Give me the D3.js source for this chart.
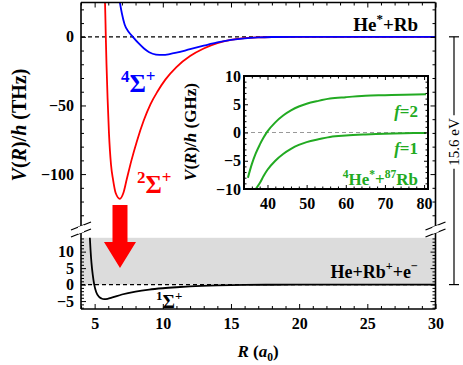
<!DOCTYPE html>
<html><head><meta charset="utf-8">
<script src="https://cdn.jsdelivr.net/npm/d3@7"></script>
<style>
body{margin:0;background:#fff}
svg{display:block}
text{font-family:"Liberation Serif","Times New Roman",serif;font-weight:bold}
</style>
</head><body>
<svg id="c" width="463" height="365"></svg>
<script>
// ---------- data ----------
const redR  = [5.70,5.76,5.82,5.87,5.95,6.05,6.20,6.35,6.55,6.85,7.10,7.35,7.70,8.10,8.60,9.10,9.60,10.2,11.0,12.0,13.0,14.0,15.0,16.0,17.0,18.0,20.0,25.0,30.0];
const redV  = [32,25,0,-20,-45,-70,-93,-104,-114,-118,-114,-104,-90,-76,-61,-49,-40,-31,-22,-14,-8.5,-4.6,-2.2,-0.9,-0.35,-0.12,0,0,0];
const blueR = [6.75,6.85,7.0,7.2,7.5,7.8,8.2,8.6,9.0,9.5,10.0,10.5,11.0,12.0,13.0,14.0,15.0,16.0,17.0,18.0,20.0,25.0,30.0];
const blueV = [31,25,17,9,3.5,0,-4.5,-8.3,-11.2,-12.9,-13.2,-12.6,-11.6,-9.0,-6.5,-4.1,-2.3,-1.1,-0.45,-0.15,0,0,0];
const blackR = [4.65,4.70,4.77,4.86,4.97,5.12,5.30,5.50,5.70,5.95,6.30,7.0,8.0,9.0,10.0,11.0,12.0,14.0,16.0,18.0,20.0,25.0,30.0];
const blackV = [14.2,10.5,6.5,3.0,0,-2.3,-3.6,-4.2,-4.4,-4.3,-3.9,-3.0,-2.1,-1.5,-1.1,-0.8,-0.55,-0.25,-0.1,-0.04,0,0,0];
const f2R = [35,36,37,38,39,40,42,44,46,48,50,53,56,60,65,70,75,80.5];
const f2V = [-8.0,-5.6,-3.7,-2.2,-0.9,0.2,1.8,3.0,3.9,4.6,5.1,5.6,6.0,6.25,6.5,6.6,6.7,6.75];
const f1R = [37,38,39,40,42,44,46,48,50,53,56,60,65,70,75,80.5];
const f1V = [-10,-9.0,-7.7,-6.6,-5.0,-3.8,-2.9,-2.2,-1.7,-1.2,-0.8,-0.55,-0.35,-0.2,-0.12,-0.08];
const ionBand = [0, 14.2];            // grey continuum (lower panel units)
const arrowR = 6.86, arrowFromV = -122.5, arrowToV = 5; // red arrow
const xTicks = [5,10,15,20,25,30];
const upperTicks = [-100,-50,0];
const lowerTicks = [-5,0,5,10];
const insetXTicks = [40,50,60,70,80];
const insetYTicks = [-10,-5,0,5,10];

// ---------- layout ----------
const svg = d3.select("#c");
const x  = d3.scaleLinear([4,30],[81,435.5]);
const yU = d3.scaleLinear([-140,25],[229,2.5]);
const yL = d3.scaleLinear([-7.4,14.5],[309,236.8]);
const xi = d3.scaleLinear([34,81],[244,428]);
const yi = d3.scaleLinear([-10,10],[189,76]);
const RED="#ff0000", BLUE="#0000ff", GREEN="#22aa22";

function rich(g, px, py, fs, anchor, parts, fill, rot){
  const t = g.append("text").attr("x",px).attr("y",py).attr("font-size",fs)
     .attr("text-anchor",anchor).attr("fill",fill||"#000");
  if (rot) t.attr("transform",`rotate(${rot},${px},${py})`);
  let cur=0;
  parts.forEach(p=>{
    const s=t.append("tspan").text(p.t);
    let target=0,size=fs;
    if(p.sup){target=-0.42*fs;size=0.68*fs;}
    if(p.sub){target=0.25*fs;size=0.68*fs;}
    s.attr("font-size",size).attr("dy",target-cur);
    if(p.it) s.attr("font-style","italic");
    cur=target;
  });
  return t;
}

const defs = svg.append("defs");
defs.append("clipPath").attr("id","cu").append("rect").attr("x",81).attr("y",2.5).attr("width",354.5).attr("height",226.5);
defs.append("clipPath").attr("id","cl").append("rect").attr("x",81).attr("y",yL(14.5)).attr("width",354.5).attr("height",yL(-7.4)-yL(14.5));

// grey band
svg.append("rect").attr("x",x(4)).attr("width",x(30)-x(4))
  .attr("y",yL(ionBand[1])).attr("height",yL(ionBand[0])-yL(ionBand[1])).attr("fill","#dcdcdc");

// dashed zero lines
svg.append("line").attr("x1",x(4)).attr("x2",x(30)).attr("y1",yU(0)).attr("y2",yU(0))
  .attr("stroke","#000").attr("stroke-width",1.2).attr("stroke-dasharray","4,3");
svg.append("line").attr("x1",x(4)).attr("x2",x(30)).attr("y1",yL(0)).attr("y2",yL(0))
  .attr("stroke","#000").attr("stroke-width",1.2).attr("stroke-dasharray","4,3");

// curves
const lineU = d3.line().x(d=>x(d[0])).y(d=>yU(d[1])).curve(d3.curveMonotoneX);
const lineL = d3.line().x(d=>x(d[0])).y(d=>yL(d[1])).curve(d3.curveMonotoneX);
const gU = svg.append("g").attr("clip-path","url(#cu)");
gU.append("path").attr("d",lineU(d3.zip(redR,redV))).attr("fill","none").attr("stroke",RED).attr("stroke-width",1.8);
gU.append("path").attr("d",lineU(d3.zip(blueR,blueV))).attr("fill","none").attr("stroke",BLUE).attr("stroke-width",1.8);
const gL = svg.append("g").attr("clip-path","url(#cl)");
gL.append("path").attr("d",lineL(d3.zip(blackR,blackV))).attr("fill","none").attr("stroke","#000").attr("stroke-width",1.8);

// arrow
{
  const cx=x(arrowR), y0=yU(arrowFromV), y1=yL(arrowToV);
  const sw=7.5, hw=16, hl=26;
  const pts=[[cx-sw,y0],[cx+sw,y0],[cx+sw,y1-hl],[cx+hw,y1-hl],[cx,y1],[cx-hw,y1-hl],[cx-sw,y1-hl]];
  svg.append("polygon").attr("points",pts.map(p=>p.join(",")).join(" ")).attr("fill",RED);
}

// axes (ticks inward)
function ax(gen, tx, ty, vals, size, fmt, pad){
  const a = gen.tickValues(vals).tickSize(size).tickPadding(pad||6).tickFormat(fmt);
  const g = svg.append("g").attr("transform",`translate(${tx},${ty})`).call(a);
  g.select(".domain").remove();
  g.selectAll("line").attr("stroke","#000").attr("stroke-width",1);
  g.selectAll("text").attr("font-size",16).attr("font-family",null).attr("fill","#000");
  return g;
}
const minor = (a,b,s,skip)=>d3.range(a,b+1e-9,s).filter(v=>!skip.some(k=>Math.abs(k-v)<1e-9));
const numFmt = d=> d<0 ? "\u2212"+Math.abs(d) : ""+d;
// main x
ax(d3.axisBottom(x),0,309,xTicks,-5,numFmt,9);
ax(d3.axisBottom(x),0,309,minor(4,30,1,xTicks),-3,()=>"");
ax(d3.axisTop(x),0,2.5,xTicks,-5,()=>"");
ax(d3.axisTop(x),0,2.5,minor(4,30,1,xTicks),-3,()=>"");
// upper y
ax(d3.axisLeft(yU),81,0,upperTicks,-5,numFmt,7);
ax(d3.axisLeft(yU),81,0,minor(-130,20,10,upperTicks),-3,()=>"");
ax(d3.axisRight(yU),435.5,0,upperTicks,-5,()=>"");
ax(d3.axisRight(yU),435.5,0,minor(-130,20,10,upperTicks),-3,()=>"");
// lower y
ax(d3.axisLeft(yL),81,0,lowerTicks,-5,numFmt,7);
ax(d3.axisLeft(yL),81,0,minor(-7,14,1,lowerTicks),-3,()=>"");
ax(d3.axisRight(yL),435.5,0,lowerTicks,-5,()=>"");
ax(d3.axisRight(yL),435.5,0,minor(-7,14,1,lowerTicks),-3,()=>"");

// frame with breaks
const fr = svg.append("g").attr("stroke","#000").attr("stroke-width",1.6).attr("fill","none");
fr.append("line").attr("x1",81).attr("x2",435.5).attr("y1",2.5).attr("y2",2.5);
fr.append("line").attr("x1",81).attr("x2",435.5).attr("y1",309).attr("y2",309);
[81,435.5].forEach(xx=>{
  fr.append("line").attr("x1",xx).attr("x2",xx).attr("y1",2.5).attr("y2",226);
  fr.append("line").attr("x1",xx).attr("x2",xx).attr("y1",233).attr("y2",309);
  [226,233].forEach(yb=>{
    fr.append("line").attr("x1",xx-10).attr("x2",xx+10).attr("y1",yb+4).attr("y2",yb-4).attr("stroke-width",1.2);
  });
  fr.append("polygon").attr("points",`${xx-3},${227} ${xx+3},${225} ${xx+3},${232} ${xx-3},${234}`).attr("fill","#fff").attr("stroke","none");
});

// labels main
rich(svg,418,31,19,"end",[{t:"He"},{t:"*",sup:true},{t:"+Rb"}]);
rich(svg,418,278,18,"end",[{t:"He+Rb"},{t:"+",sup:true},{t:"+e"},{t:"\u2212",sup:true}]);
rich(svg,121,92,25,"start",[{t:"4",sup:true},{t:"\u03A3"},{t:"+",sup:true}],BLUE);
rich(svg,137,193,25,"start",[{t:"2",sup:true},{t:"\u03A3"},{t:"+",sup:true}],RED);
rich(svg,156,308,19,"start",[{t:"1",sup:true},{t:"\u03A3"},{t:"+",sup:true}],"#000");
rich(svg,258,357,17,"middle",[{t:"R",it:true},{t:" ("},{t:"a",it:true},{t:"0",sub:true},{t:")"}]);
rich(svg,26,125,20,"middle",[{t:"V",it:true},{t:"("},{t:"R",it:true},{t:")/"},{t:"h",it:true},{t:" (THz)"}],"#000",-90);

// scale bar 15.6 eV
{
  const bx=454, t0=yU(0), t1=yL(0), tc=142;
  const lbl = svg.append("text").attr("x",bx+5).attr("y",tc).attr("font-size",15).style("font-weight","normal")
    .attr("text-anchor","middle").attr("transform",`rotate(-90,${bx+5},${tc})`).text("15.6 eV");
  const bb = lbl.node().getBBox();
  const half = bb.width/2+3;
  const g = svg.append("g").attr("stroke","#000").attr("stroke-width",1.2);
  g.append("line").attr("x1",bx).attr("x2",bx).attr("y1",t0).attr("y2",tc-half);
  g.append("line").attr("x1",bx).attr("x2",bx).attr("y1",tc+half).attr("y2",t1);
  g.append("line").attr("x1",bx-5).attr("x2",bx+5).attr("y1",t0).attr("y2",t0);
  g.append("line").attr("x1",bx-5).attr("x2",bx+5).attr("y1",t1).attr("y2",t1);
}

// ---------- inset ----------
svg.append("rect").attr("x",244).attr("y",76).attr("width",184).attr("height",113).attr("fill","#fff");
svg.append("line").attr("x1",244).attr("x2",428).attr("y1",yi(0)).attr("y2",yi(0))
  .attr("stroke","#999").attr("stroke-width",1.2).attr("stroke-dasharray","4,3");
svg.append("clipPath").attr("id","ci").append("rect").attr("x",244).attr("y",76).attr("width",184).attr("height",113);
const lineI = d3.line().x(d=>xi(d[0])).y(d=>yi(d[1])).curve(d3.curveMonotoneX);
const gI = svg.append("g").attr("clip-path","url(#ci)");
gI.append("path").attr("d",lineI(d3.zip(f2R,f2V))).attr("fill","none").attr("stroke",GREEN).attr("stroke-width",2);
gI.append("path").attr("d",lineI(d3.zip(f1R,f1V))).attr("fill","none").attr("stroke",GREEN).attr("stroke-width",2);
ax(d3.axisBottom(xi),0,189,insetXTicks,-4,d=>""+d,9);
ax(d3.axisBottom(xi),0,189,minor(36,80,2,insetXTicks),-2.5,()=>"");
ax(d3.axisTop(xi),0,76,insetXTicks,-4,()=>"");
ax(d3.axisTop(xi),0,76,minor(36,80,2,insetXTicks),-2.5,()=>"");
ax(d3.axisLeft(yi),244,0,insetYTicks,-4,numFmt,3);
ax(d3.axisLeft(yi),244,0,minor(-9,9,1,insetYTicks),-2.5,()=>"");
ax(d3.axisRight(yi),428,0,insetYTicks,-4,()=>"");
ax(d3.axisRight(yi),428,0,minor(-9,9,1,insetYTicks),-2.5,()=>"");
svg.append("rect").attr("x",244).attr("y",76).attr("width",184).attr("height",113)
  .attr("fill","none").attr("stroke","#000").attr("stroke-width",2);
rich(svg,418,117,17,"end",[{t:"f",it:true},{t:"=2"}],GREEN);
rich(svg,418,154,17,"end",[{t:"f",it:true},{t:"=1"}],GREEN);
rich(svg,418,185,17,"end",[{t:"4",sup:true},{t:"He"},{t:"*",sup:true},{t:"+"},{t:"87",sup:true},{t:"Rb"}],GREEN);
rich(svg,196,132,17,"middle",[{t:"V",it:true},{t:"("},{t:"R",it:true},{t:")/"},{t:"h",it:true},{t:" (GHz)"}],"#000",-90);
</script>
</body></html>
